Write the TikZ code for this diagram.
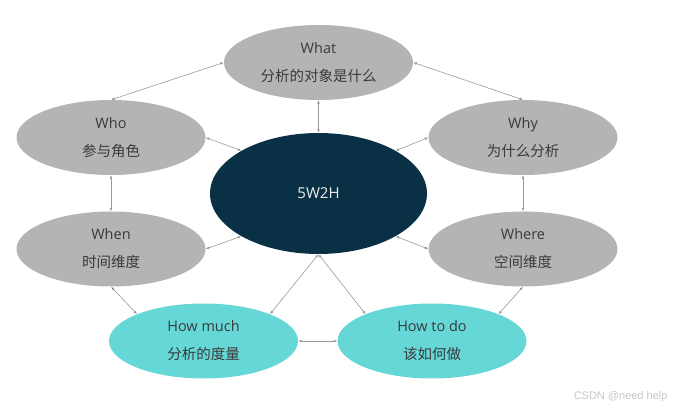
\documentclass[tikz,border=0pt]{standalone}
\usepackage{fontspec}
\setmainfont{Open Sans}
\newfontfamily\cjk{Noto Sans CJK SC}
\newfontfamily\wmfont{Liberation Sans}
\usetikzlibrary{arrows.meta,shapes.geometric}
\definecolor{bubblegray}{HTML}{B4B4B4}
\definecolor{navy}{HTML}{0A3045}
\definecolor{teal5}{HTML}{66D7D7}
\definecolor{txtgray}{HTML}{3A3A3A}
\definecolor{linegray}{HTML}{999999}
\begin{document}
\begin{tikzpicture}[x=1pt,y=-1pt,
  bubble/.style={ellipse,minimum width=189pt,minimum height=75pt,inner sep=0pt,
    align=center,text=txtgray,font=\fontsize{14.5}{28}\selectfont},
  graybub/.style={bubble,fill=bubblegray},
  tealbub/.style={bubble,fill=teal5},
  link/.style={draw=linegray,line width=0.6pt,{Latex[length=3.5pt,width=2.8pt]}-{Latex[length=3.5pt,width=2.8pt]}}
]
\useasboundingbox (0,0) rectangle (677,411);
\node[graybub] (what) at (318.5,62.5) {What\\{\cjk 分析的对象是什么}};
\node[graybub] (who) at (111,137.5) {Who\\{\cjk 参与角色}};
\node[graybub] (why) at (523,137.5) {Why\\{\cjk 为什么分析}};
\node[graybub] (when) at (111,249) {When\\{\cjk 时间维度}};
\node[graybub] (where) at (523,249) {Where\\{\cjk 空间维度}};
\node[tealbub] (much) at (203.5,341) {How much\\{\cjk 分析的度量}};
\node[tealbub] (todo) at (432,341) {How to do\\{\cjk 该如何做}};
\node[ellipse,fill=navy,minimum width=217pt,minimum height=121pt,inner sep=0pt,
  text=white!88!gray,font=\fontsize{15}{18}\selectfont] (core) at (318.5,193.5) {5W2H};
\node[anchor=east,text=gray!45,font=\wmfont\fontsize{11}{13}\selectfont] (wm) at (671,397) {CSDN @need help};

\draw[link] (what.west) -- (who.north);
\draw[link] (what.east) -- (why.north);
\draw[link] (what.south) -- (core.north);
\draw[link] (who.east) -- (core.151);
\draw[link] (why.west) -- (core.29);
\draw[link] (when.east) -- (core.209);
\draw[link] (where.west) -- (core.331);
\draw[link] (who.south) -- (when.north);
\draw[link] (why.south) -- (where.north);
\draw[link] (when.south) -- (much.158);
\draw[link] (where.south) -- (todo.22);
\draw[link] (core.south) -- (much.22);
\draw[link] (core.south) -- (todo.158);
\draw[link] (much.east) -- (todo.west);
\end{tikzpicture}
\end{document}
